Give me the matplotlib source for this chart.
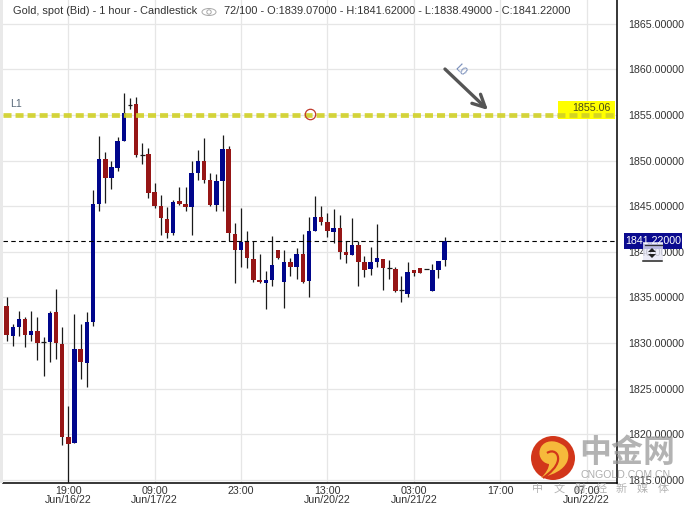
import matplotlib
matplotlib.use('Agg')
import matplotlib.pyplot as plt
from matplotlib.patches import Circle, Ellipse, Rectangle, PathPatch
from matplotlib.path import Path

# 1 hour candles
opens = [1834.06, 1830.77, 1831.75, 1832.63, 1830.88, 1831.31, 1830.11, 1830.11, 1833.40, 1829.89,
         1819.69, 1819.03, 1829.34, 1827.81, 1832.30, 1845.24, 1850.18, 1848.09, 1849.19, 1852.15,
         1856.10, 1856.21, 1850.61, 1850.72, 1846.56, 1845.02, 1843.60, 1842.06, 1845.57, 1845.24,
         1844.91, 1848.64, 1849.96, 1847.87, 1845.13, 1847.76, 1851.27, 1841.95, 1840.20, 1841.07,
         1839.21, 1836.91, 1836.58, 1836.91, 1840.20, 1836.69, 1838.88, 1838.33, 1839.76, 1836.80,
         1842.28, 1843.82, 1843.27, 1842.17, 1842.61, 1839.98, 1839.65, 1840.75, 1838.88, 1838.11,
         1838.88, 1839.21, 1838.22, 1838.11, 1835.81, 1835.37, 1838.00, 1838.22, 1838.15, 1835.70,
         1838.00, 1839.07]
highs = [1835.04, 1832.08, 1833.51, 1832.85, 1833.51, 1832.85, 1830.66, 1833.51, 1835.92, 1831.75,
         1823.09, 1833.18, 1832.08, 1833.40, 1846.78, 1852.70, 1850.94, 1849.96, 1852.59, 1857.41,
         1856.86, 1856.97, 1851.93, 1851.38, 1847.54, 1846.23, 1844.91, 1845.68, 1847.11, 1847.11,
         1849.96, 1851.16, 1852.48, 1848.64, 1848.53, 1852.81, 1851.60, 1843.16, 1844.80, 1842.28,
         1841.18, 1839.76, 1837.89, 1841.73, 1840.20, 1840.20, 1839.32, 1840.42, 1841.95, 1843.82,
         1846.12, 1845.02, 1844.25, 1844.69, 1844.03, 1841.18, 1843.71, 1841.18, 1839.54, 1840.53,
         1843.05, 1839.21, 1839.10, 1838.33, 1837.35, 1838.88, 1838.00, 1838.22, 1838.15, 1838.66,
         1838.99, 1841.62]
lows = [1830.22, 1829.67, 1830.77, 1829.56, 1830.22, 1828.14, 1826.38, 1827.92, 1828.25, 1818.81,
        1814.76, 1819.03, 1826.05, 1825.17, 1831.86, 1844.47, 1845.35, 1846.89, 1848.86, 1852.15,
        1855.66, 1850.39, 1849.63, 1845.90, 1844.80, 1841.84, 1841.51, 1841.84, 1845.13, 1844.47,
        1841.84, 1847.87, 1847.54, 1845.02, 1844.47, 1844.47, 1841.18, 1836.58, 1838.33, 1838.22,
        1836.69, 1836.58, 1833.73, 1836.25, 1839.21, 1833.84, 1837.35, 1837.02, 1836.58, 1835.04,
        1842.28, 1842.94, 1841.62, 1840.96, 1839.21, 1838.77, 1839.65, 1836.25, 1837.24, 1837.46,
        1838.33, 1835.81, 1837.02, 1835.59, 1834.50, 1835.04, 1837.35, 1837.68, 1838.15, 1835.70,
        1837.13, 1838.49]
closes = [1830.88, 1831.75, 1832.63, 1830.88, 1831.31, 1830.00, 1830.11, 1833.29, 1830.00, 1819.69,
          1818.92, 1829.34, 1827.92, 1832.30, 1845.24, 1850.18, 1848.09, 1849.30, 1852.15, 1855.22,
          1856.10, 1850.61, 1850.61, 1846.45, 1845.02, 1843.71, 1842.06, 1845.46, 1845.24, 1844.91,
          1848.64, 1849.96, 1847.87, 1845.13, 1847.76, 1851.27, 1842.06, 1840.20, 1841.07, 1839.32,
          1836.91, 1836.69, 1836.91, 1838.55, 1839.32, 1838.88, 1838.33, 1839.76, 1836.69, 1842.28,
          1843.82, 1843.27, 1842.28, 1842.61, 1839.98, 1839.65, 1840.75, 1838.88, 1838.00, 1838.88,
          1839.32, 1838.22, 1838.22, 1835.70, 1835.81, 1837.78, 1837.68, 1837.68, 1838.15, 1838.00,
          1838.99, 1841.22]

price_ticks = [1815, 1820, 1825, 1830, 1835, 1840, 1845, 1850, 1855, 1860, 1865]
time_ticks = [10, 24, 38, 52, 66, 80, 94]
time_labels = ['19:00\nJun/16/22', '09:00\nJun/17/22', '23:00', '13:00\nJun/20/22',
               '03:00\nJun/21/22', '17:00', '07:00\nJun/22/22']
level_l1 = 1855.06
last_price = 1841.22
slogan = '中文财经新媒体'

RED = '#961616'
BLUE = '#00068c'
GRID = '#e6e6e6'
TEXT = '#333333'
W, H = 687, 507

plt.rcParams['font.family'] = ['Liberation Sans', 'DejaVu Sans']

fig = plt.figure(figsize=(W / 100, H / 100), dpi=100)
ax = fig.add_axes([3 / W, (H - 483) / H, 614 / W, 483 / H])
ax.set_xlim(-0.58, 98.93)
ax.set_ylim(1814.65, 1867.61)

ax.set_axisbelow(True)
ax.grid(True, color=GRID, lw=0.9)
ax.set_yticks(price_ticks)
ax.set_yticklabels(['%.5f' % p for p in price_ticks], fontsize=7.7, color=TEXT)
ax.yaxis.tick_right()
ax.set_xticks(time_ticks)
ax.set_xticklabels(time_labels, fontsize=7.7, color=TEXT, linespacing=0.95)
ax.tick_params(axis='both', length=0)
ax.tick_params(axis='y', pad=8)
ax.tick_params(axis='x', pad=2)
for side in ['top', 'left']:
    ax.spines[side].set_visible(False)
ax.spines['right'].set_linewidth(1.1)
ax.spines['bottom'].set_linewidth(1.1)

for i in range(len(opens)):
    ax.vlines(i, lows[i], highs[i], color='#1a1a1a', lw=0.9, zorder=2)
    if closes[i] == opens[i]:
        ax.hlines(opens[i], i - 0.4, i + 0.4, color='#1a1a1a', lw=0.9, zorder=3)
    else:
        color = BLUE if closes[i] > opens[i] else RED
        ax.bar(i, abs(closes[i] - opens[i]), bottom=min(opens[i], closes[i]),
               width=0.72, color=color, lw=0, zorder=3)

ax.plot([-0.58, 98.93], [last_price, last_price], color='black', lw=0.8, dashes=(4, 3), zorder=4)

# yellow price tag under the L1 line
ax.add_patch(Rectangle((89.37, 1854.56), 9.2, 1.97, color='#ffff00', lw=0, zorder=4))
ax.text(97.96, 1855.8, '1855.06', ha='right', va='center', fontsize=7.7, color='#4a4a1a', zorder=6)
ax.plot([-0.58, 98.93], [level_l1 - 0.05, level_l1 - 0.05], color='#d0d026', lw=3.4,
        dashes=(1.7, 0.85), alpha=0.9, zorder=5)
ax.plot(49.17, level_l1, 'o', ms=7.5, mfc='none', mec='#c0392b', mew=0.9, zorder=6)
ax.text(0.55, 1856.25, 'L1', fontsize=7.7, color='#5a6a7a', ha='left', va='center', zorder=6)

ax.annotate('', xy=(78.02, 1855.55), xytext=(71.05, 1860.04), zorder=6,
            arrowprops=dict(arrowstyle='->,head_length=0.9,head_width=0.45', color='#555555', lw=2.4,
                            shrinkA=0, shrinkB=0))
ax.text(73.6, 1859.9, 'L0', fontsize=7.7, color='#6f86b5', rotation=-45, ha='center', va='center', zorder=6)

# overlay in picture pixels for the header, last price tag and watermark
top = fig.add_axes([0, 0, 1, 1])
top.set_xlim(0, W)
top.set_ylim(H, 0)
top.axis('off')
top.patch.set_alpha(0)

top.add_patch(Rectangle((0, 0), 3, 483, color='#e9e9e9', lw=0))

top.text(13, 11, 'Gold, spot (Bid) - 1 hour - Candlestick', fontsize=7.9, color=TEXT, va='center')
top.add_patch(Ellipse((209, 12), 14, 7, fc='none', ec='#a8a8a8', lw=0.7))
top.add_patch(Circle((209, 12), 2.2, fc='none', ec='#a8a8a8', lw=0.7))
top.text(224, 11, '72/100 - O:1839.07000 - H:1841.62000 - L:1838.49000 - C:1841.22000',
         fontsize=7.95, color=TEXT, va='center')

top.add_patch(Rectangle((624, 233), 58, 15.5, color='#0b0b8f', lw=0))
top.text(653, 240.5, '1841.22000', fontsize=7.7, color='white', ha='center', va='center')
top.add_patch(Rectangle((643, 242), 20, 18, color='#e6e6f5', alpha=0.8, lw=0))
top.plot([645, 662], [245, 245], color='#333333', lw=0.9)
top.plot([643, 662], [261, 261], color='#222222', lw=1.1)
top.fill([648, 652, 656], [252, 248, 252], color='#222222', lw=0)
top.fill([648, 652, 656], [254, 258, 254], color='#222222', lw=0)

# cngold logo
top.add_patch(Circle((553, 458), 22, color='#d2361a', lw=0))
swirl = Path([(541, 478), (555, 474), (563, 470), (567, 462),
              (570, 455), (568, 447), (561, 444),
              (555, 440), (545, 440), (541, 447),
              (537, 454), (541, 463), (549, 464),
              (549, 468), (546, 473), (541, 478)],
             [Path.MOVETO] + [Path.CURVE4] * 15)
top.add_patch(PathPatch(swirl, fc='#f6b93b', ec='none'))
hook = Path([(547, 453), (553, 449), (559, 453), (558, 460),
             (557, 467), (550, 473), (543, 478)],
            [Path.MOVETO] + [Path.CURVE4] * 6)
top.add_patch(PathPatch(hook, fc='none', ec='#d2361a', lw=1.6))

cjk = ['Noto Sans CJK SC', 'DejaVu Sans']
top.text(627, 453, '中金网', family=cjk, weight='bold', fontsize=23, color='#9a9a9a', alpha=0.75,
         ha='center', va='center')
top.text(626, 475, 'CNGOLD.COM.CN', fontsize=7.6, color='#9a9a9a', alpha=0.8, ha='center', va='center')
for i, ch in enumerate(slogan):
    top.text(538 + 20.9 * i, 489, ch, family=cjk, fontsize=8, color='#a0a0a0', alpha=0.8,
             ha='center', va='center')

fig.savefig('out.png', dpi=100)
